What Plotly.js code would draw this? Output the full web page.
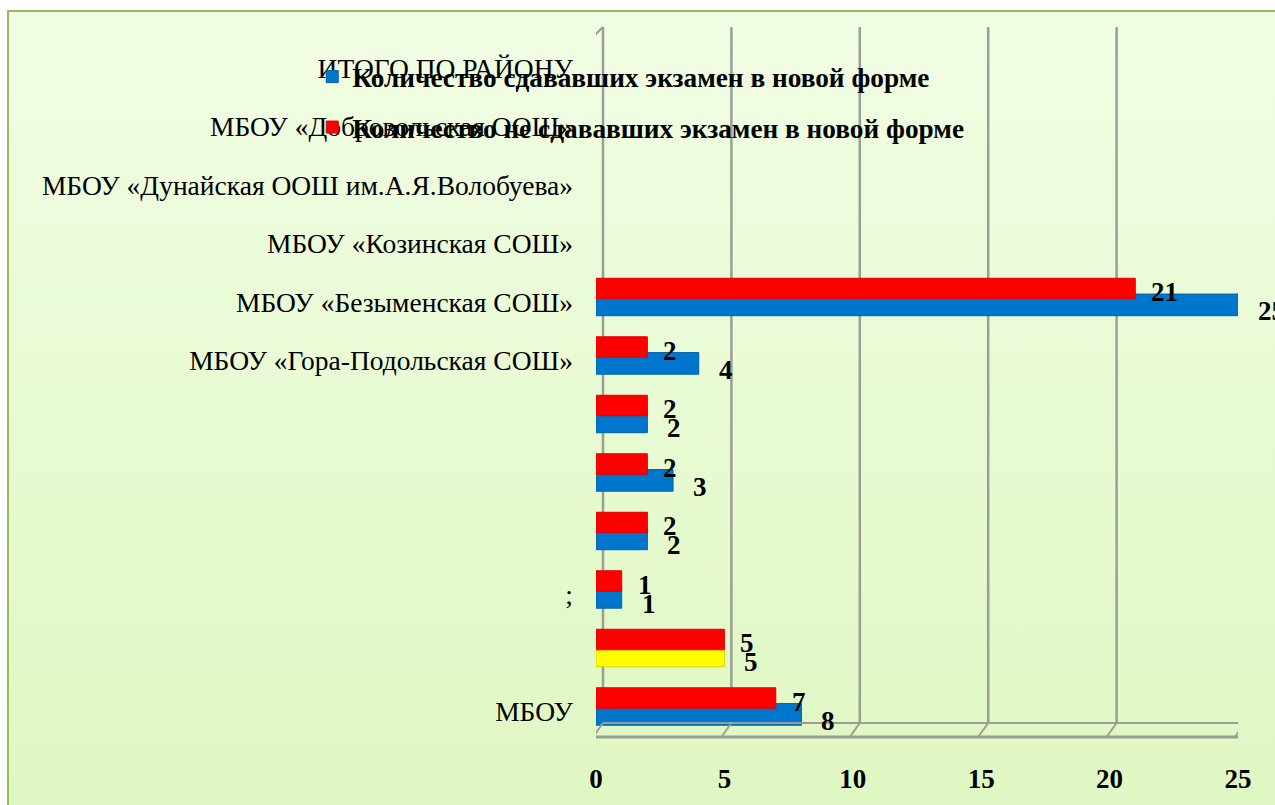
<!DOCTYPE html>
<html>
<head>
<meta charset="utf-8">
<script src="https://cdn.plot.ly/plotly-3.0.1.min.js"></script>
<style>
  html, body { margin: 0; padding: 0; width: 1275px; height: 805px; overflow: hidden; background: #ffffff; }
  #frame { position: absolute; left: 7px; top: 10px; width: 1280px; height: 810px;
           border: 2px solid #9bbb59; box-sizing: border-box;
           background: linear-gradient(to bottom, #f1fde4 0%, #e8fad3 50%, #dff7c2 100%); }
  #chart { position: absolute; left: 0; top: 0; width: 1275px; height: 805px; }
</style>
</head>
<body>
<div id="frame"></div>
<div id="chart"></div>
<script>
// ---- data (bottom to top, as drawn) ----
const categories = [
  'МБОУ',
  ' ',
  ';',
  '  ',
  '   ',
  '    ',
  'МБОУ «Гора-Подольская СОШ»',
  'МБОУ «Безыменская СОШ»',
  'МБОУ «Козинская СОШ»',
  'МБОУ «Дунайская ООШ им.А.Я.Волобуева»',
  'МБОУ «Добровольская ООШ»',
  'ИТОГО ПО РАЙОНУ'
];
const seriesNames = [
  'Количество сдававших экзамен в новой форме',
  'Количество не сдававших экзамен в новой форме'
];
const tookExam   = [8, 5, 1, 2, 3, 2, 4, 25, null, null, null, null];
const notTook    = [7, 5, 1, 2, 2, 2, 2, 21, null, null, null, null];
const xTickVals  = [0, 5, 10, 15, 20, 25];

// ---- styling ----
const BLUE = '#0077cc', RED = '#ff0000', YELLOW = '#ffff00';
const yellowCategory = ' ';
const blueColors = categories.map(c => c === yellowCategory ? YELLOW : BLUE);
const blueEdge = categories.map(c => c === yellowCategory ? '#d8d800' : '#0062a8');
const serif = 'Liberation Serif, Times New Roman, serif';

const traces = [
  { type: 'bar', orientation: 'h', name: seriesNames[0], y: categories, x: tookExam,
    offset: -0.23, width: 0.37,
    marker: { color: blueColors, line: { color: blueEdge, width: 1 } }, legendgroup: 'a', hoverinfo: 'x' },
  { type: 'bar', orientation: 'h', name: seriesNames[1], y: categories, x: notTook,
    offset: 0.06, width: 0.35,
    marker: { color: RED, line: { color: '#e00000', width: 1 } }, legendgroup: 'b', hoverinfo: 'x' }
];

// data labels
const annotations = [];
const addLabels = (vals, yshift, xshift) => vals.forEach((v, i) => {
  if (v === null) return;
  annotations.push({ x: v, y: categories[i], xref: 'x', yref: 'y', text: String(v),
    showarrow: false, xanchor: 'left', yanchor: 'middle', xshift: xshift, yshift: yshift,
    font: { family: serif, size: 27, color: '#000', weight: 'bold' } });
});
addLabels(tookExam, -9, 18);
addLabels(notTook, 10, 14);

// pseudo-3D walls / floor
const GRID = '#9a9e94';
const yp = px => (741 - px) / 702;
const shapes = [];
xTickVals.forEach(v => {
  shapes.push({ type: 'line', xref: 'x', xsizemode: 'pixel', xanchor: v, x0: 7, x1: 7,
    yref: 'paper', y0: yp(723), y1: yp(27), line: { color: GRID, width: 2.5 }, layer: 'below' });
  shapes.push({ type: 'line', xref: 'x', xsizemode: 'pixel', xanchor: v, x0: -3, x1: 7,
    yref: 'paper', y0: yp(737), y1: yp(723), line: { color: GRID, width: 2 } });
});
// left wall front edge + top diagonal
shapes.push({ type: 'line', xref: 'x', xsizemode: 'pixel', xanchor: 0, x0: -3, x1: -3,
  yref: 'paper', y0: yp(737), y1: yp(37), line: { color: GRID, width: 2.5 }, layer: 'below' });
shapes.push({ type: 'line', xref: 'x', xsizemode: 'pixel', xanchor: 0, x0: -3, x1: 7,
  yref: 'paper', y0: yp(37), y1: yp(27), line: { color: GRID, width: 2 } });
// floor front and back edges
shapes.push({ type: 'line', xref: 'x', xsizemode: 'pixel', xanchor: 0, x0: -3, x1: 645,
  yref: 'paper', y0: yp(737), y1: yp(737), line: { color: GRID, width: 3 } });
shapes.push({ type: 'line', xref: 'x', xsizemode: 'pixel', xanchor: 0, x0: 7, x1: 652,
  yref: 'paper', y0: yp(723), y1: yp(723), line: { color: GRID, width: 2 } });

const layout = {
  width: 1275, height: 805,
  margin: { l: 596, r: 37, t: 39, b: 64 },
  paper_bgcolor: 'rgba(0,0,0,0)', plot_bgcolor: 'rgba(0,0,0,0)',
  barmode: 'overlay',
  font: { family: serif, color: '#000' },
  xaxis: { range: [0, 25], tickvals: xTickVals, showgrid: false, zeroline: false,
    showline: false, ticks: '', ticklabelstandoff: 19,
    tickfont: { family: serif, size: 27, color: '#000', weight: 'bold' } },
  yaxis: { type: 'category', categoryorder: 'array', categoryarray: categories,
    range: [-0.5, 11.5],
    showgrid: false, zeroline: false, showline: false, ticks: '', ticklabelstandoff: 22,
    tickfont: { family: serif, size: 27.5, color: '#000' } },
  showlegend: true,
  legend: { x: -0.442, xanchor: 'left', y: 0.981, yanchor: 'top', traceorder: 'grouped',
    tracegroupgap: 12, bgcolor: 'rgba(0,0,0,0)',
    font: { family: serif, size: 27.3, color: '#000', weight: 'bold' } },
  annotations: annotations,
  shapes: shapes
};

Plotly.newPlot('chart', traces, layout, { displayModeBar: false, staticPlot: true });
</script>
</body>
</html>
